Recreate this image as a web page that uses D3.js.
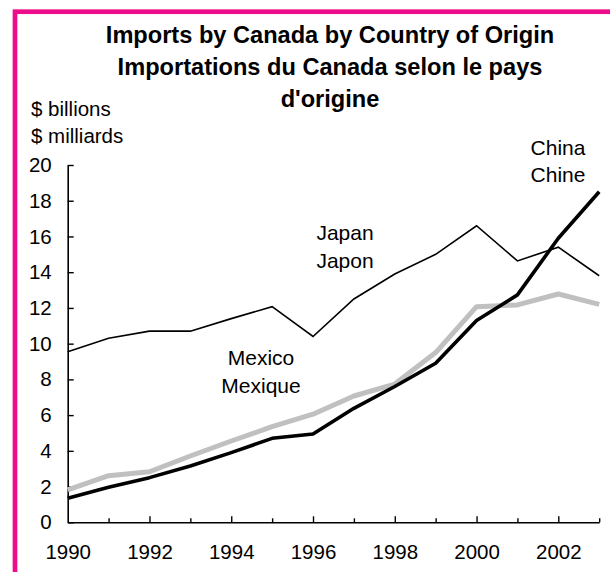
<!DOCTYPE html>
<html>
<head>
<meta charset="utf-8">
<script src="https://cdn.jsdelivr.net/npm/d3@7"></script>
<style>
  body { margin: 0; background: #fff; }
  svg { display: block; font-family: "Liberation Sans", Arial, sans-serif; }
</style>
</head>
<body>
<svg></svg>
<script>
// data ($ billions)
let years = [1990, 1991, 1992, 1993, 1994, 1995, 1996, 1997, 1998, 1999, 2000, 2001, 2002, 2003];
let japan = [9.55, 10.3, 10.7, 10.7, 11.4, 12.07, 10.4, 12.5, 13.9, 15.0, 16.6, 14.63, 15.4, 13.8];
let china = [1.34, 1.96, 2.5, 3.15, 3.9, 4.7, 4.94, 6.38, 7.6, 8.9, 11.3, 12.73, 15.9, 18.5];
let mexico = [1.81, 2.61, 2.83, 3.71, 4.55, 5.35, 6.05, 7.07, 7.74, 9.5, 12.07, 12.17, 12.78, 12.2];
let yTicks = [0, 2, 4, 6, 8, 10, 12, 14, 16, 18, 20];
let titleLines = [
  "Imports by Canada by Country of Origin",
  "Importations du Canada selon le pays",
  "d'origine"
];

let width = 610;
let height = 572;

let svg = d3.select("svg").attr("width", width).attr("height", height);

// pink frame, only top and left are inside the picture
svg.append("rect")
  .attr("x", 15)
  .attr("y", 11.7)
  .attr("width", 700)
  .attr("height", 700)
  .attr("fill", "none")
  .attr("stroke", "#ec0c8c")
  .attr("stroke-width", 4.7);

let xScale = d3.scaleLinear().domain([1990, 2003]).range([67.7, 599.2]);
let yScale = d3.scaleLinear().domain([0, 20]).range([522.3, 165]);

// title
svg.append("g")
  .selectAll("text")
  .data(titleLines)
  .enter()
  .append("text")
  .attr("x", 330)
  .attr("y", (d, i) => 42.7 + i * 32)
  .attr("text-anchor", "middle")
  .style("font-size", "23.6px")
  .style("font-weight", "bold")
  .text((d) => d);

// unit labels
svg.append("text").attr("x", 31).attr("y", 116).style("font-size", "20.5px").text("$ billions");
svg.append("text").attr("x", 31).attr("y", 143.3).style("font-size", "20.5px").text("$ milliards");

// axes
let yAxis = d3.axisLeft(yScale)
  .tickValues(yTicks)
  .tickSizeInner(-6)
  .tickSizeOuter(0)
  .tickPadding(16);

let yG = svg.append("g")
  .attr("transform", `translate(${xScale(1990)}, 0)`)
  .call(yAxis);

let xAxis = d3.axisBottom(xScale)
  .tickValues(years)
  .tickFormat((d) => (d % 2 === 0 ? d : ""))
  .tickSizeInner(-6)
  .tickSizeOuter(0)
  .tickPadding(22);

let xG = svg.append("g")
  .attr("transform", `translate(0, ${yScale(0)})`)
  .call(xAxis);

// short ticks on odd years
xG.selectAll(".tick line").attr("y2", (d) => (d % 2 === 0 ? -6 : -4));
xG.select(".tick line").remove();

[xG, yG].forEach((g) => {
  g.select(".domain").attr("stroke", "#000").attr("stroke-width", 1.6);
  g.selectAll(".tick line").attr("stroke", "#000").attr("stroke-width", 1.4);
  g.selectAll("text")
    .attr("fill", "#000")
    .style("font-size", "20.5px")
    .style("font-family", "'Liberation Sans', Arial, sans-serif");
});

// lines
let line = (vals) =>
  d3.line()
    .x((d, i) => xScale(years[i]))
    .y((d) => yScale(d))(vals);

svg.append("path")
  .attr("d", line(mexico))
  .attr("fill", "none")
  .attr("stroke", "#c0c0c0")
  .attr("stroke-width", 5)
  .attr("stroke-linejoin", "round");

svg.append("path")
  .attr("d", line(japan))
  .attr("fill", "none")
  .attr("stroke", "#000")
  .attr("stroke-width", 1.6);

svg.append("path")
  .attr("d", line(china))
  .attr("fill", "none")
  .attr("stroke", "#000")
  .attr("stroke-width", 3.6)
  .attr("stroke-linejoin", "round");

// series labels
let labels = [
  { lines: ["Japan", "Japon"], x: 345, y: 240 },
  { lines: ["China", "Chine"], x: 558, y: 154.5 },
  { lines: ["Mexico", "Mexique"], x: 261, y: 365 }
];

labels.forEach((l) => {
  svg.append("g")
    .selectAll("text")
    .data(l.lines)
    .enter()
    .append("text")
    .attr("x", l.x)
    .attr("y", (d, i) => l.y + i * 27.5)
    .attr("text-anchor", "middle")
    .style("font-size", "21px")
    .text((d) => d);
});
</script>
</body>
</html>
